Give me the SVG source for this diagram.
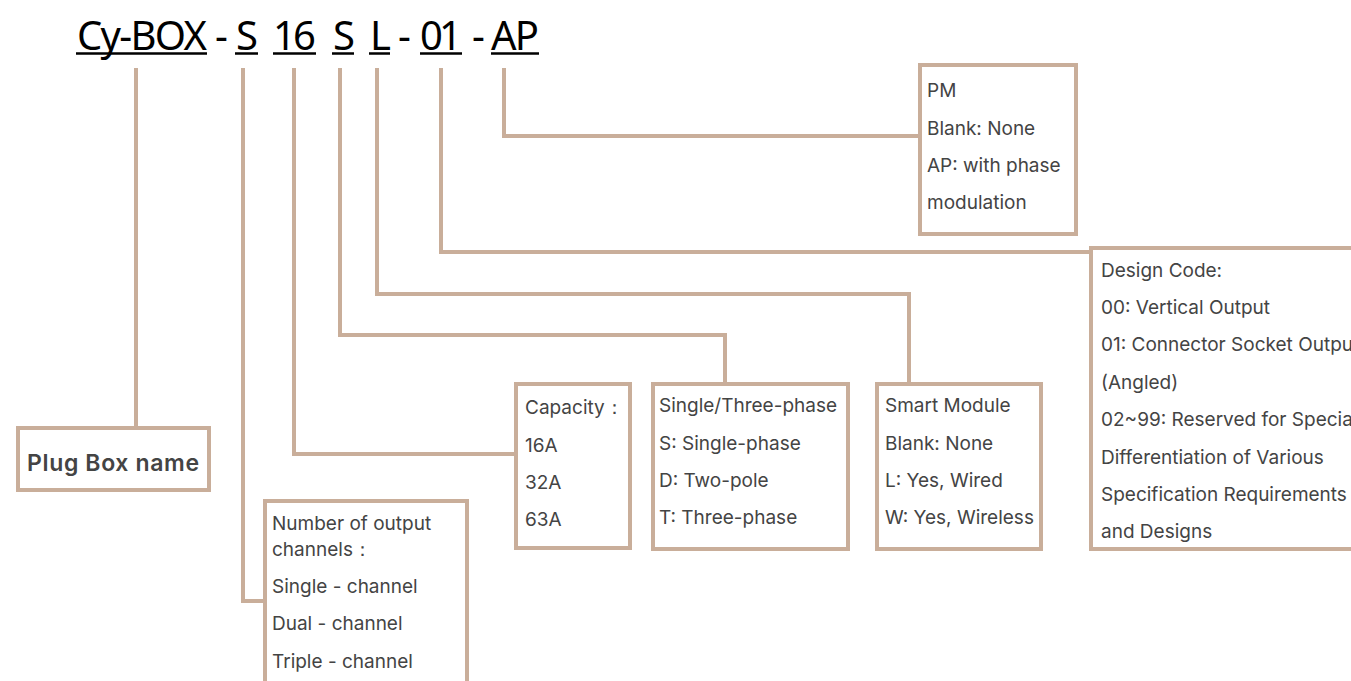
<svg xmlns="http://www.w3.org/2000/svg" width="1351" height="681" viewBox="0 0 1351 681">
<style>
.t{font-family:"Noto Sans","Liberation Sans",sans-serif;font-size:40px;fill:#000}
.u{stroke:#000;stroke-width:2.5}
.c{fill:none;stroke:#c9ae9a;stroke-width:4}
.b{fill:#fff;stroke:#c9ae9a;stroke-width:4}
.l{font-family:Inter,"Liberation Sans",sans-serif;font-size:19px;fill:#444}
</style>
<rect width="1351" height="681" fill="#fff"/>
<g id="title">
<text class="t" x="77" y="50" textLength="130">Cy-BOX</text>
<text class="t" x="215" y="50">-</text>
<text class="t" x="236" y="50">S</text>
<text class="t" x="273" y="50" textLength="43">16</text>
<text class="t" x="333" y="50">S</text>
<text class="t" x="370" y="50">L</text>
<text class="t" x="398" y="50">-</text>
<text class="t" x="420" y="50" textLength="42">01</text>
<text class="t" x="472" y="50">-</text>
<text class="t" x="491" y="50" textLength="48">AP</text>
<line class="u" x1="76" y1="53.5" x2="207" y2="53.5"/>
<line class="u" x1="235" y1="53.5" x2="258" y2="53.5"/>
<line class="u" x1="273" y1="53.5" x2="316" y2="53.5"/>
<line class="u" x1="332" y1="53.5" x2="354" y2="53.5"/>
<line class="u" x1="369" y1="53.5" x2="390" y2="53.5"/>
<line class="u" x1="420" y1="53.5" x2="462" y2="53.5"/>
<line class="u" x1="491" y1="53.5" x2="539" y2="53.5"/>
</g>
<g id="connectors">
<path class="c" d="M136 68V428"/>
<path class="c" d="M243 68V601H265"/>
<path class="c" d="M294 68V454H516"/>
<path class="c" d="M340 68V335H725V384"/>
<path class="c" d="M377 68V294H909V384"/>
<path class="c" d="M441 68V252H1091"/>
<path class="c" d="M504 68V136H920"/>
</g>
<g id="plugbox">
<rect class="b" x="18" y="428" width="191" height="62"/>
<text class="l" x="27" y="471" textLength="172" style="font-size:23px;font-weight:600">Plug Box name</text>
</g>
<g id="channels">
<rect class="b" x="265" y="501" width="202" height="190"/>
<text class="l" x="272" y="530">Number of output</text>
<text class="l" x="272" y="556">channels：</text>
<text class="l" x="272" y="593">Single - channel</text>
<text class="l" x="272" y="630">Dual - channel</text>
<text class="l" x="272" y="668">Triple - channel</text>
</g>
<g id="capacity">
<rect class="b" x="516" y="384" width="114" height="164"/>
<text class="l" x="525" y="414">Capacity：</text>
<text class="l" x="525" y="452">16A</text>
<text class="l" x="525" y="489">32A</text>
<text class="l" x="525" y="526">63A</text>
</g>
<g id="phase">
<rect class="b" x="653" y="384" width="195" height="165"/>
<text class="l" x="659" y="412">Single/Three-phase</text>
<text class="l" x="659" y="450">S: Single-phase</text>
<text class="l" x="659" y="487">D: Two-pole</text>
<text class="l" x="659" y="524">T: Three-phase</text>
</g>
<g id="smart">
<rect class="b" x="877" y="384" width="164" height="165"/>
<text class="l" x="885" y="412">Smart Module</text>
<text class="l" x="885" y="450">Blank: None</text>
<text class="l" x="885" y="487">L: Yes, Wired</text>
<text class="l" x="885" y="524">W: Yes, Wireless</text>
</g>
<g id="design">
<rect class="b" x="1091" y="248" width="280" height="301"/>
<text class="l" x="1101" y="277">Design Code:</text>
<text class="l" x="1101" y="314">00: Vertical Output</text>
<text class="l" x="1101" y="351">01: Connector Socket Output</text>
<text class="l" x="1101" y="389">(Angled)</text>
<text class="l" x="1101" y="426">02~99: Reserved for Special</text>
<text class="l" x="1101" y="464">Differentiation of Various</text>
<text class="l" x="1101" y="501">Specification Requirements</text>
<text class="l" x="1101" y="538">and Designs</text>
</g>
<g id="pm">
<rect class="b" x="920" y="65" width="156" height="169"/>
<text class="l" x="927" y="97">PM</text>
<text class="l" x="927" y="135">Blank: None</text>
<text class="l" x="927" y="172">AP: with phase</text>
<text class="l" x="927" y="209">modulation</text>
</g>
</svg>
